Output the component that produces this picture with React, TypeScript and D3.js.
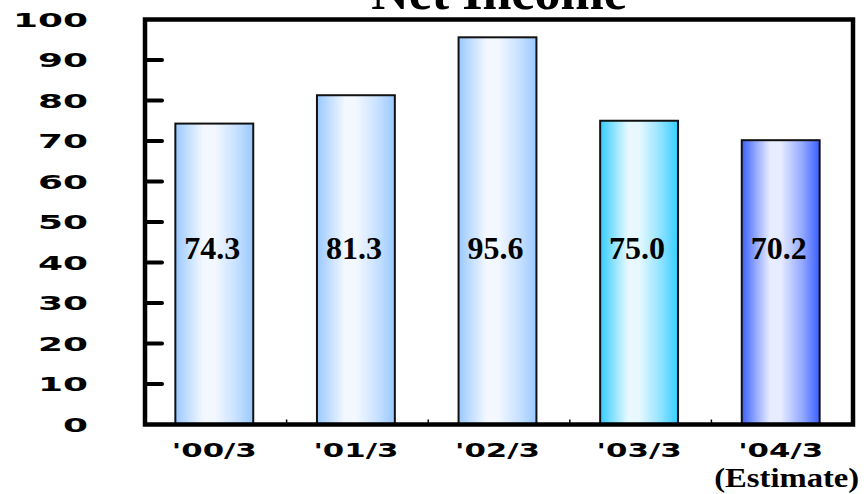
import React from "react";
import * as d3 from "d3";

const categories = ["'00/3", "'01/3", "'02/3", "'03/3", "'04/3"];
const values = [74.3, 81.3, 95.6, 75.0, 70.2];
const valueLabels = ["74.3", "81.3", "95.6", "75.0", "70.2"];
const yTicks = [0, 10, 20, 30, 40, 50, 60, 70, 80, 90, 100];
const barColors = ["#99c8ff", "#99c8ff", "#99c8ff", "#33ccff", "#3a60ff"];
const subLabels = ["", "", "", "", "(Estimate)"];

const W = 867;
const H = 494;
const left = 145;
const right = 853;
const top = 19.5;
const bottom = 424.5;

export default function App() {
  const x = d3
    .scaleBand<string>()
    .domain(categories)
    .range([left - 1.5, right - 1.5])
    .paddingInner(0.45)
    .paddingOuter(0.225);
  const y = d3.scaleLinear().domain([0, 100]).range([bottom, top]);
  const step = x.step();
  const boundaries = d3.range(1, categories.length).map((i) => left + i * step);

  const heavy = "'DejaVu Sans', Verdana, sans-serif";
  const serif = "'Liberation Serif', 'Times New Roman', serif";

  return (
    <svg
      width={W}
      height={H}
      style={{ position: "absolute", left: 0, top: 0, background: "#fff" }}
    >
      <defs>
        {barColors.map((c, i) => {
          const mid = d3.interpolateRgb(c, "#ffffff")(0.45);
          const light = d3.interpolateRgb(c, "#ffffff")(0.88);
          return (
            <linearGradient id={`g${i}`} key={i} x1="0" x2="1" y1="0" y2="0">
              <stop offset="0%" stopColor={c} />
              <stop offset="18%" stopColor={mid} />
              <stop offset="36%" stopColor={light} />
              <stop offset="50%" stopColor={light} />
              <stop offset="78%" stopColor={mid} />
              <stop offset="100%" stopColor={c} />
            </linearGradient>
          );
        })}
      </defs>

      <text
        x={150}
        y={-5}
        textAnchor="end"
        fontFamily={serif}
        fontWeight="bold"
        fontSize={20}
      >
        (Billion yen)
      </text>

      <text
        x={(left + right) / 2}
        y={9}
        textAnchor="middle"
        fontFamily={serif}
        fontWeight="bold"
        fontSize={52}
      >
        Net Income
      </text>

      {/* bars */}
      {categories.map((c, i) => (
        <rect
          key={c}
          x={x(c)}
          y={y(values[i])}
          width={x.bandwidth()}
          height={y(0) - y(values[i])}
          fill={`url(#g${i})`}
          stroke="#111"
          strokeWidth={2}
        />
      ))}

      {/* value labels */}
      {categories.map((c, i) => (
        <text
          key={c}
          x={(x(c) as number) + x.bandwidth() / 2 - 2}
          y={y(40.8)}
          textAnchor="middle"
          fontFamily={serif}
          fontWeight="bold"
          fontSize={32}
        >
          {valueLabels[i]}
        </text>
      ))}

      {/* frame */}
      <rect
        x={left}
        y={top}
        width={right - left}
        height={bottom - top}
        fill="none"
        stroke="#000"
        strokeWidth={4.5}
      />

      {/* y ticks */}
      {yTicks.map((t) => (
        <g key={t}>
          {t > 0 && t < 100 && (
            <line
              x1={left}
              x2={left + 17}
              y1={y(t)}
              y2={y(t)}
              stroke="#000"
              strokeWidth={4}
              strokeLinecap="round"
            />
          )}
          <text
            x={88}
            y={y(t)}
            dy="0.36em"
            textAnchor="end"
            fontFamily={heavy}
            fontWeight="bold"
            fontSize={20}
            textLength={String(t).length * 25}
            lengthAdjust="spacingAndGlyphs"
          >
            {t}
          </text>
        </g>
      ))}

      {/* x boundary ticks */}
      {boundaries.map((b, i) => (
        <line
          key={i}
          x1={b}
          x2={b}
          y1={bottom}
          y2={bottom - 5}
          stroke="#000"
          strokeWidth={1.5}
        />
      ))}

      {/* x labels */}
      {categories.map((c, i) => (
        <g key={c}>
          <text
            x={(x(c) as number) + x.bandwidth() / 2}
            y={457}
            textAnchor="middle"
            fontFamily={heavy}
            fontWeight="bold"
            fontSize={20}
            textLength={85}
            lengthAdjust="spacingAndGlyphs"
          >
            {c}
          </text>
          {subLabels[i] && (
            <text
              x={(x(c) as number) + x.bandwidth() / 2 + 6}
              y={487}
              textAnchor="middle"
              fontFamily={serif}
              fontWeight="bold"
              fontSize={28}
              textLength={145}
              lengthAdjust="spacingAndGlyphs"
            >
              {subLabels[i]}
            </text>
          )}
        </g>
      ))}
    </svg>
  );
}
